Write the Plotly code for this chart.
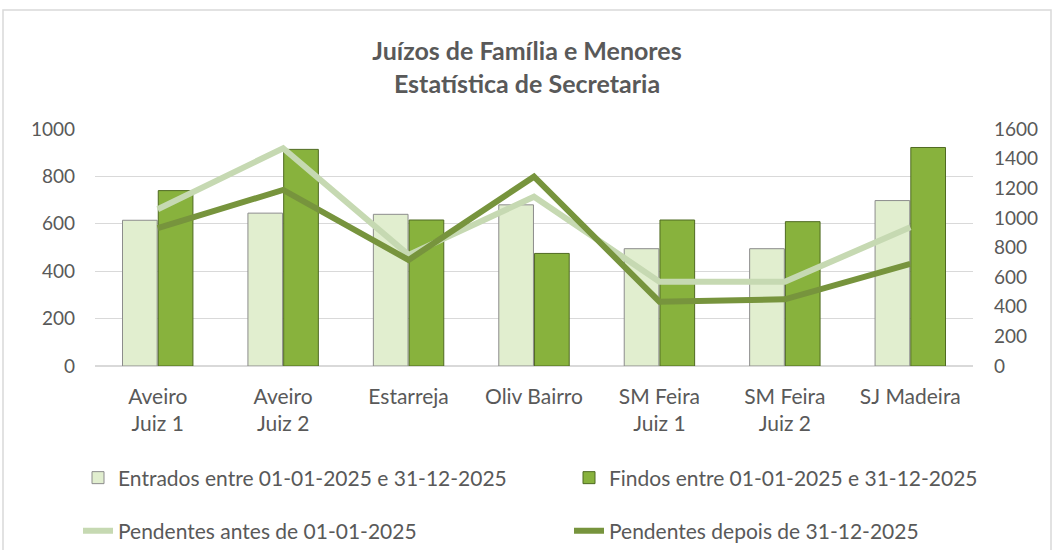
import plotly.graph_objects as go

categories = ["Aveiro<br>Juiz 1", "Aveiro<br>Juiz 2", "Estarreja", "Oliv Bairro",
              "SM Feira<br>Juiz 1", "SM Feira<br>Juiz 2", "SJ Madeira"]
entrados = [615, 645, 640, 680, 495, 495, 698]
findos = [740, 914, 616, 475, 616, 609, 922]
pend_antes = [1058, 1470, 750, 1143, 569, 569, 936]
pend_depois = [930, 1189, 716, 1278, 434, 450, 689]

FONT = "Lato"
TXT = "#595959"

W, H = 1054, 550
L, R, T, B = 95, 81, 129, 184
pw, ph = W - L - R, H - T - B

def px(x):
    return (x - L) / pw

def py(y):
    return (H - B - y) / ph

fig = go.Figure()
fig.add_trace(go.Bar(
    x=categories, y=entrados, name="Entrados entre 01-01-2025 e 31-12-2025",
    marker=dict(color="#e1eecf", line=dict(color="#8c8c8c", width=1)),
    legend="legend", showlegend=True))
fig.add_trace(go.Bar(
    x=categories, y=findos, name="Findos entre 01-01-2025 e 31-12-2025",
    marker=dict(color="#88b23d", line=dict(color="#4f6a22", width=1)),
    legend="legend2", showlegend=True))
fig.add_trace(go.Scatter(
    x=categories, y=pend_antes, name="Pendentes antes de 01-01-2025",
    mode="lines", line=dict(color="#c6d9b2", width=6), yaxis="y2",
    legend="legend3", showlegend=True))
fig.add_trace(go.Scatter(
    x=categories, y=pend_depois, name="Pendentes depois de 31-12-2025",
    mode="lines", line=dict(color="#77943d", width=6), yaxis="y2",
    legend="legend4", showlegend=True))

def leg(xpix, ypix):
    return dict(orientation="h", xref="container", yref="container",
                x=xpix / W, y=1 - ypix / H, xanchor="left", yanchor="middle",
                font=dict(size=21, color=TXT), bgcolor="rgba(0,0,0,0)")

fig.update_layout(
    width=W, height=H,
    showlegend=True,
    margin=dict(l=L, r=R, t=T, b=B, autoexpand=False),
    paper_bgcolor="white", plot_bgcolor="white",
    font=dict(family=FONT, size=21, color=TXT),
    title=dict(text="<b>Juízos de Família e Menores<br>Estatística de Secretaria</b>",
               x=0.5, xanchor="center", y=1 - 60 / H, yanchor="middle",
               font=dict(family=FONT, size=25, color=TXT)),
    barmode="group", bargap=0.43, bargroupgap=0.03,
    xaxis=dict(showgrid=False, showline=False, ticks="", tickfont=dict(size=21, color=TXT),
               ticklabelstandoff=16),
    yaxis=dict(range=[0, 1000], dtick=200, showgrid=True, gridcolor="#d9d9d9",
               gridwidth=1, zeroline=True, zerolinecolor="#d9d9d9", showline=False,
               tickfont=dict(size=19, color=TXT), ticklabelstandoff=19),
    yaxis2=dict(range=[0, 1600], dtick=200, overlaying="y", side="right",
                showgrid=False, zeroline=False, showline=False,
                tickfont=dict(size=19, color=TXT), ticklabelstandoff=20),
    legend=leg(78, 478),
    legend2=leg(569, 478),
    legend3=leg(78, 531),
    legend4=leg(569, 531),
    shapes=[dict(type="rect", xref="paper", yref="paper",
                 x0=px(3), x1=px(1051), y0=py(556), y1=py(10),
                 line=dict(color="#d9d9d9", width=1.5), fillcolor="rgba(0,0,0,0)",
                 layer="below")],
)

fig.write_html("out.html", config={"displayModeBar": False},
               post_script="document.body.style.margin='0';document.body.style.overflow='hidden';")
